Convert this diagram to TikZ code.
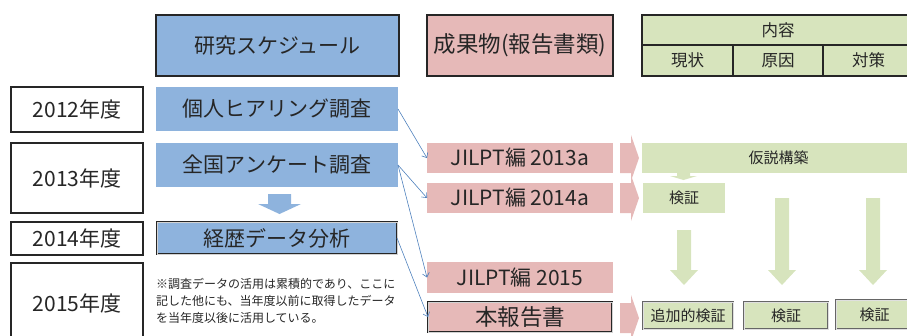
\documentclass[tikz,border=0pt]{standalone}
\usepackage{fontspec}
\setmainfont{Noto Sans CJK JP}
\usetikzlibrary{arrows.meta}
\definecolor{bl}{HTML}{8EB3DD}
\definecolor{pk}{HTML}{E6B9B8}
\definecolor{gr}{HTML}{D7E4BD}
\definecolor{ln}{HTML}{4F81BD}
\definecolor{tx}{HTML}{262626}
\newcommand\fsXL{\fontsize{22.5pt}{26pt}\selectfont}
\newcommand\fsL{\fontsize{21pt}{25pt}\selectfont}
\newcommand\fsM{\fontsize{16.5pt}{20pt}\selectfont}
\newcommand\fsS{\fontsize{15pt}{18pt}\selectfont}
\newcommand\fsN{\fontsize{12pt}{17pt}\selectfont}
\begin{document}
\begin{tikzpicture}[x=1pt,y=-1pt,
  box/.style={anchor=north west, inner sep=0pt, outer sep=0pt, text=tx, align=center},
  thickb/.style={draw=tx, line width=1.6pt},
  yearbox/.style={box, thickb, fill=white, font=\fsL},
  bluebox/.style={box, fill=bl, font=\fsL},
  pinkbox/.style={box, fill=pk, font=\fsL},
  greenbox/.style={box, fill=gr, font=\fsS},
  cellbox/.style={box, fill=gr, draw=tx, line width=1.3pt, font=\fsM},
  dbl/.style={draw=tx, line width=0.6pt, double=gray!35, double distance=1pt},
  gdbl/.style={draw=black!60, line width=0.6pt, double=gray!25, double distance=1pt},
  conn/.style={draw=ln, line width=0.6pt, -{Straight Barb[length=4pt,width=7pt]}},
]
\useasboundingbox (0,0) rectangle (907,335);
\clip (0,0) rectangle (907,335);

% left column: years
\node[yearbox, minimum width=132pt, minimum height=45pt] (y12) at (11,87) {2012年度};
\node[yearbox, minimum width=132pt, minimum height=70pt] (y13) at (11,143) {2013年度};
\node[yearbox, minimum width=132pt, minimum height=33pt] (y14) at (11,222) {2014年度};
\node[yearbox, minimum width=132pt, minimum height=80pt] (y15) at (11,263) {2015年度};

% schedule column
\node[bluebox, thickb, minimum width=243pt, minimum height=61pt] (sched) at (156,15) {研究スケジュール};
\node[bluebox, minimum width=242pt, minimum height=44pt] (hear) at (156,87) {個人ヒアリング調査};
\node[bluebox, minimum width=242pt, minimum height=44pt] (zen) at (156,143) {全国アンケート調査};
\node[bluebox, dbl, minimum width=240pt, minimum height=32pt] (keireki) at (157,222) {経歴データ分析};
\fill[bl] (268,194) -- (291,194) -- (291,204) -- (301,204) -- (279.5,214) -- (258,204) -- (268,204) -- cycle;

\node[box, font=\fsN, align=left, anchor=north west] (note) at (156,278)
  {※調査データの活用は累積的であり、ここに\\記した他にも、当年度以前に取得したデータ\\を当年度以後に活用している。};

% outputs column
\node[pinkbox, thickb, font=\fsXL, minimum width=186pt, minimum height=61pt] (seika) at (427,15) {成果物(報告書類)};
\node[pinkbox, minimum width=186pt, minimum height=30pt] (j13) at (427,143) {JILPT編 2013a};
\node[pinkbox, minimum width=186pt, minimum height=30pt] (j14) at (427,183) {JILPT編 2014a};
\node[pinkbox, minimum width=186pt, minimum height=31pt] (j15) at (427,262) {JILPT編 2015};
\node[pinkbox, dbl, font=\fsXL, minimum width=184pt, minimum height=30pt] (hon) at (428,302) {本報告書};

% pink block arrows
\fill[pk] (620,143) -- (631,143) -- (631,135) -- (639,158) -- (631,181) -- (631,173) -- (620,173) -- cycle;
\fill[pk] (620,183) -- (631,183) -- (631,175) -- (639,198) -- (631,221) -- (631,213) -- (620,213) -- cycle;
\fill[pk] (620,303) -- (631,303) -- (631,295) -- (639,318) -- (631,341) -- (631,333) -- (620,333) -- cycle;

% content table
\node[cellbox, minimum width=272pt, minimum height=30pt] (naiyo) at (642,15) {内容};
\node[cellbox, minimum width=91pt, minimum height=31pt] (genjo) at (642,45) {現状};
\node[cellbox, minimum width=90pt, minimum height=31pt] (genin) at (733,45) {原因};
\node[cellbox, minimum width=91pt, minimum height=31pt] (taisaku) at (823,45) {対策};

% green content
\node[greenbox, minimum width=273pt, minimum height=30pt] (kasetsu) at (642,143) {仮説構築};
\node[greenbox, minimum width=82pt, minimum height=30pt] (ken1) at (643,183) {検証};
\fill[gr] (677,173) -- (690,173) -- (690,176) -- (697,176) -- (683.5,180) -- (670,176) -- (677,176) -- cycle;

\fill[gr] (677,230) -- (691,230) -- (691,270) -- (698,270) -- (684,285) -- (670,270) -- (677,270) -- cycle;
\fill[gr] (775,198) -- (789,198) -- (789,270) -- (796,270) -- (782,285) -- (768,270) -- (775,270) -- cycle;
\fill[gr] (866,198) -- (880,198) -- (880,270) -- (887,270) -- (873,285) -- (859,270) -- (866,270) -- cycle;

\node[greenbox, gdbl, minimum width=90pt, minimum height=27pt] (tsuika) at (643,302) {追加的検証};
\node[greenbox, gdbl, minimum width=84pt, minimum height=27pt] (ken2) at (744,302) {検証};
\node[greenbox, gdbl, minimum width=77pt, minimum height=29pt] (ken3) at (836,300) {検証};

% connectors
\draw[conn] (hear.east) -- (j13.west);
\draw[conn] (zen.east) -- (j14.west);
\draw[conn] (zen.east) -- (j15.west);
\draw[conn] (keireki.east) -- (hon.west);
\end{tikzpicture}
\end{document}
